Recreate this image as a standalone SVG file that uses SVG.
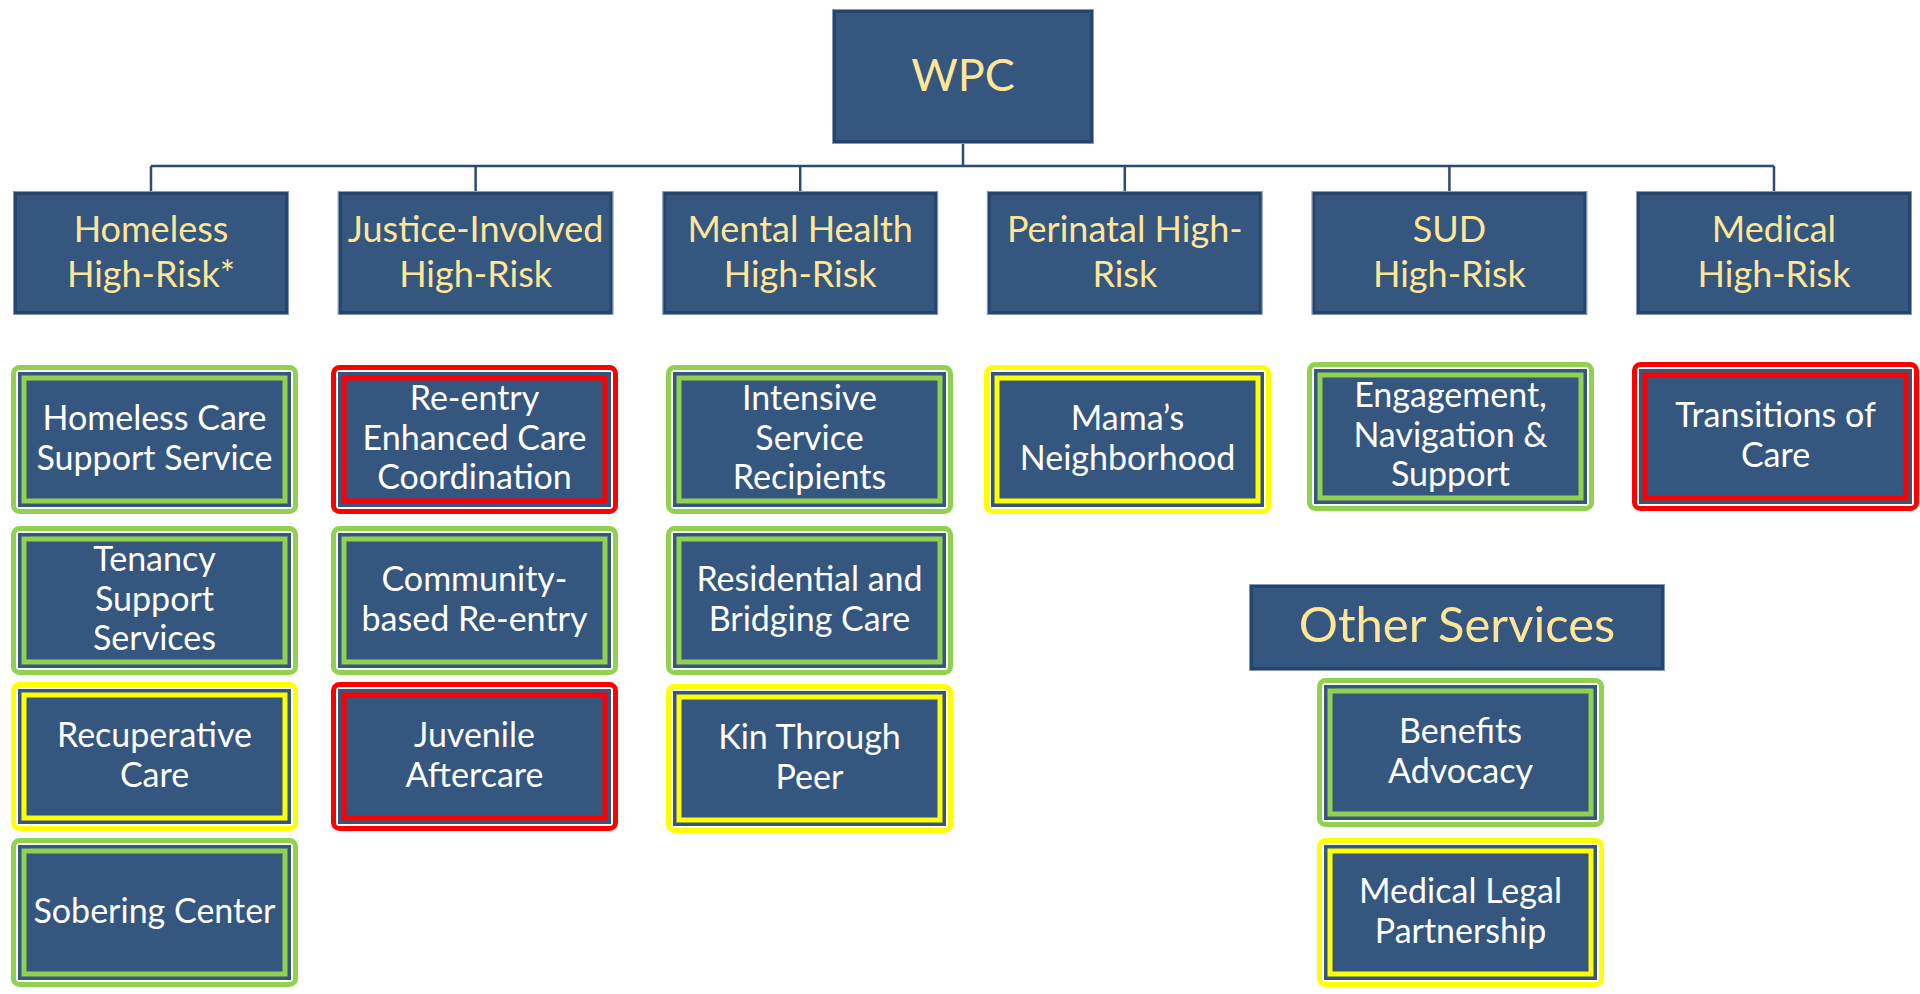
<svg xmlns="http://www.w3.org/2000/svg" width="1920" height="994" viewBox="0 0 1920 994">
<style>
.hb{fill:#34567F;stroke:#27446C;stroke-width:3}
.hl{fill:none;stroke:#8499B8;stroke-width:1}
.ht{font-family:Lato,"Liberation Sans",sans-serif;fill:#FFE697;text-anchor:middle}
.h2{font-size:36px}
.o{fill:#FFFFFF;stroke-width:5}
.n{fill:#34567F}
.i{fill:none;stroke-width:5}
.g{stroke:#92D050}
.r{stroke:#FF0000}
.y{stroke:#FFFF00}
.st{font-family:Lato,"Liberation Sans",sans-serif;font-size:34px;fill:#FFFFFF;text-anchor:middle}
.c{fill:none;stroke:#2C4A72;stroke-width:2.5}
</style>
<rect width="1920" height="994" fill="#FFFFFF"/>
<g id="connectors">
<path class="c" d="M963 143V166M151 166H1774M151 166V192M475.6 166V192M800.2 166V192M1124.8 166V192M1449.4 166V192M1774 166V192"/>
</g>
<g id="wpc">
<rect class="hl" x="832.5" y="9.5" width="261" height="134"/>
<rect class="hb" x="834.5" y="11.5" width="257" height="130"/>
<text class="ht" x="963" y="91" font-size="45">WPC</text>
</g>
<g id="h-homeless">
<rect class="hl" x="13.5" y="191.5" width="275" height="123"/>
<rect class="hb" x="15.5" y="193.5" width="271" height="119"/>
<text class="ht h2"><tspan x="151" y="242">Homeless</tspan><tspan x="151" y="287">High-Risk*</tspan></text>
</g>
<g id="h-justice">
<rect class="hl" x="338.1" y="191.5" width="275" height="123"/>
<rect class="hb" x="340.1" y="193.5" width="271" height="119"/>
<text class="ht h2"><tspan x="475.6" y="242">Justice-Involved</tspan><tspan x="475.6" y="287">High-Risk</tspan></text>
</g>
<g id="h-mental">
<rect class="hl" x="662.7" y="191.5" width="275" height="123"/>
<rect class="hb" x="664.7" y="193.5" width="271" height="119"/>
<text class="ht h2"><tspan x="800.2" y="242">Mental Health</tspan><tspan x="800.2" y="287">High-Risk</tspan></text>
</g>
<g id="h-perinatal">
<rect class="hl" x="987.3" y="191.5" width="275" height="123"/>
<rect class="hb" x="989.3" y="193.5" width="271" height="119"/>
<text class="ht h2"><tspan x="1124.8" y="242">Perinatal High-</tspan><tspan x="1124.8" y="287">Risk</tspan></text>
</g>
<g id="h-sud">
<rect class="hl" x="1311.9" y="191.5" width="275" height="123"/>
<rect class="hb" x="1313.9" y="193.5" width="271" height="119"/>
<text class="ht h2"><tspan x="1449.4" y="242">SUD</tspan><tspan x="1449.4" y="287">High-Risk</tspan></text>
</g>
<g id="h-medical">
<rect class="hl" x="1636.5" y="191.5" width="275" height="123"/>
<rect class="hb" x="1638.5" y="193.5" width="271" height="119"/>
<text class="ht h2"><tspan x="1774" y="242">Medical</tspan><tspan x="1774" y="287">High-Risk</tspan></text>
</g>
<g id="s-homeless-care">
<rect class="o g" x="13.5" y="367.5" width="282" height="144" rx="6"/>
<rect class="n" x="18" y="372" width="273" height="135"/>
<rect class="i g" x="24" y="378" width="261" height="123"/>
<text class="st"><tspan x="154.5" y="430">Homeless Care</tspan><tspan x="154.5" y="469.5">Support Service</tspan></text>
</g>
<g id="s-tenancy">
<rect class="o g" x="13.5" y="528.5" width="282" height="144" rx="6"/>
<rect class="n" x="18" y="533" width="273" height="135"/>
<rect class="i g" x="24" y="539" width="261" height="123"/>
<text class="st"><tspan x="154.5" y="571.3">Tenancy</tspan><tspan x="154.5" y="610.8">Support</tspan><tspan x="154.5" y="650.3">Services</tspan></text>
</g>
<g id="s-recuperative">
<rect class="o y" x="13.5" y="684.5" width="282" height="144" rx="6"/>
<rect class="n" x="18" y="689" width="273" height="135"/>
<rect class="i y" x="24" y="695" width="261" height="123"/>
<text class="st"><tspan x="154.5" y="747">Recuperative</tspan><tspan x="154.5" y="786.5">Care</tspan></text>
</g>
<g id="s-sobering">
<rect class="o g" x="13.5" y="840.5" width="282" height="144" rx="6"/>
<rect class="n" x="18" y="845" width="273" height="135"/>
<rect class="i g" x="24" y="851" width="261" height="123"/>
<text class="st" x="154.5" y="922.8">Sobering Center</text>
</g>
<g id="s-reentry">
<rect class="o r" x="333.5" y="367.5" width="282" height="144" rx="6"/>
<rect class="n" x="338" y="372" width="273" height="135"/>
<rect class="i r" x="344" y="378" width="261" height="123"/>
<text class="st"><tspan x="474.5" y="410.3">Re-entry</tspan><tspan x="474.5" y="449.8">Enhanced Care</tspan><tspan x="474.5" y="489.3">Coordination</tspan></text>
</g>
<g id="s-community">
<rect class="o g" x="333.5" y="528.5" width="282" height="144" rx="6"/>
<rect class="n" x="338" y="533" width="273" height="135"/>
<rect class="i g" x="344" y="539" width="261" height="123"/>
<text class="st"><tspan x="474.5" y="591">Community-</tspan><tspan x="474.5" y="630.5">based Re-entry</tspan></text>
</g>
<g id="s-juvenile">
<rect class="o r" x="333.5" y="684.5" width="282" height="144" rx="6"/>
<rect class="n" x="338" y="689" width="273" height="135"/>
<rect class="i r" x="344" y="695" width="261" height="123"/>
<text class="st"><tspan x="474.5" y="747">Juvenile</tspan><tspan x="474.5" y="786.5">Aftercare</tspan></text>
</g>
<g id="s-intensive">
<rect class="o g" x="668.5" y="367.5" width="282" height="144" rx="6"/>
<rect class="n" x="673" y="372" width="273" height="135"/>
<rect class="i g" x="679" y="378" width="261" height="123"/>
<text class="st"><tspan x="809.5" y="410.3">Intensive</tspan><tspan x="809.5" y="449.8">Service</tspan><tspan x="809.5" y="489.3">Recipients</tspan></text>
</g>
<g id="s-residential">
<rect class="o g" x="668.5" y="528.5" width="282" height="144" rx="6"/>
<rect class="n" x="673" y="533" width="273" height="135"/>
<rect class="i g" x="679" y="539" width="261" height="123"/>
<text class="st"><tspan x="809.5" y="591">Residential and</tspan><tspan x="809.5" y="630.5">Bridging Care</tspan></text>
</g>
<g id="s-kin">
<rect class="o y" x="668.5" y="686.5" width="282" height="144" rx="6"/>
<rect class="n" x="673" y="691" width="273" height="135"/>
<rect class="i y" x="679" y="697" width="261" height="123"/>
<text class="st"><tspan x="809.5" y="749">Kin Through</tspan><tspan x="809.5" y="788.5">Peer</tspan></text>
</g>
<g id="s-mamas">
<rect class="o y" x="986.5" y="367.5" width="282" height="144" rx="6"/>
<rect class="n" x="991" y="372" width="273" height="135"/>
<rect class="i y" x="997" y="378" width="261" height="123"/>
<text class="st"><tspan x="1127.5" y="430">Mama’s</tspan><tspan x="1127.5" y="469.5">Neighborhood</tspan></text>
</g>
<g id="s-engagement">
<rect class="o g" x="1309.5" y="364.5" width="282" height="144" rx="6"/>
<rect class="n" x="1314" y="369" width="273" height="135"/>
<rect class="i g" x="1320" y="375" width="261" height="123"/>
<text class="st"><tspan x="1450.5" y="407.3">Engagement,</tspan><tspan x="1450.5" y="446.8">Navigation &amp;</tspan><tspan x="1450.5" y="486.3">Support</tspan></text>
</g>
<g id="s-transitions">
<rect class="o r" x="1634.5" y="364.5" width="282" height="144" rx="6"/>
<rect class="n" x="1639" y="369" width="273" height="135"/>
<rect class="i r" x="1645" y="375" width="261" height="123"/>
<text class="st"><tspan x="1775.5" y="427">Transitions of</tspan><tspan x="1775.5" y="466.5">Care</tspan></text>
</g>
<g id="other-services">
<rect class="hl" x="1249.5" y="584.5" width="415" height="86"/>
<rect class="hb" x="1251.5" y="586.5" width="411" height="82"/>
<text class="ht" x="1457" y="642" font-size="49">Other Services</text>
</g>
<g id="s-benefits">
<rect class="o g" x="1319.5" y="680.5" width="282" height="144" rx="6"/>
<rect class="n" x="1324" y="685" width="273" height="135"/>
<rect class="i g" x="1330" y="691" width="261" height="123"/>
<text class="st"><tspan x="1460.5" y="743">Benefits</tspan><tspan x="1460.5" y="782.5">Advocacy</tspan></text>
</g>
<g id="s-mlp">
<rect class="o y" x="1319.5" y="840.5" width="282" height="144" rx="6"/>
<rect class="n" x="1324" y="845" width="273" height="135"/>
<rect class="i y" x="1330" y="851" width="261" height="123"/>
<text class="st"><tspan x="1460.5" y="903">Medical Legal</tspan><tspan x="1460.5" y="942.5">Partnership</tspan></text>
</g>
</svg>
